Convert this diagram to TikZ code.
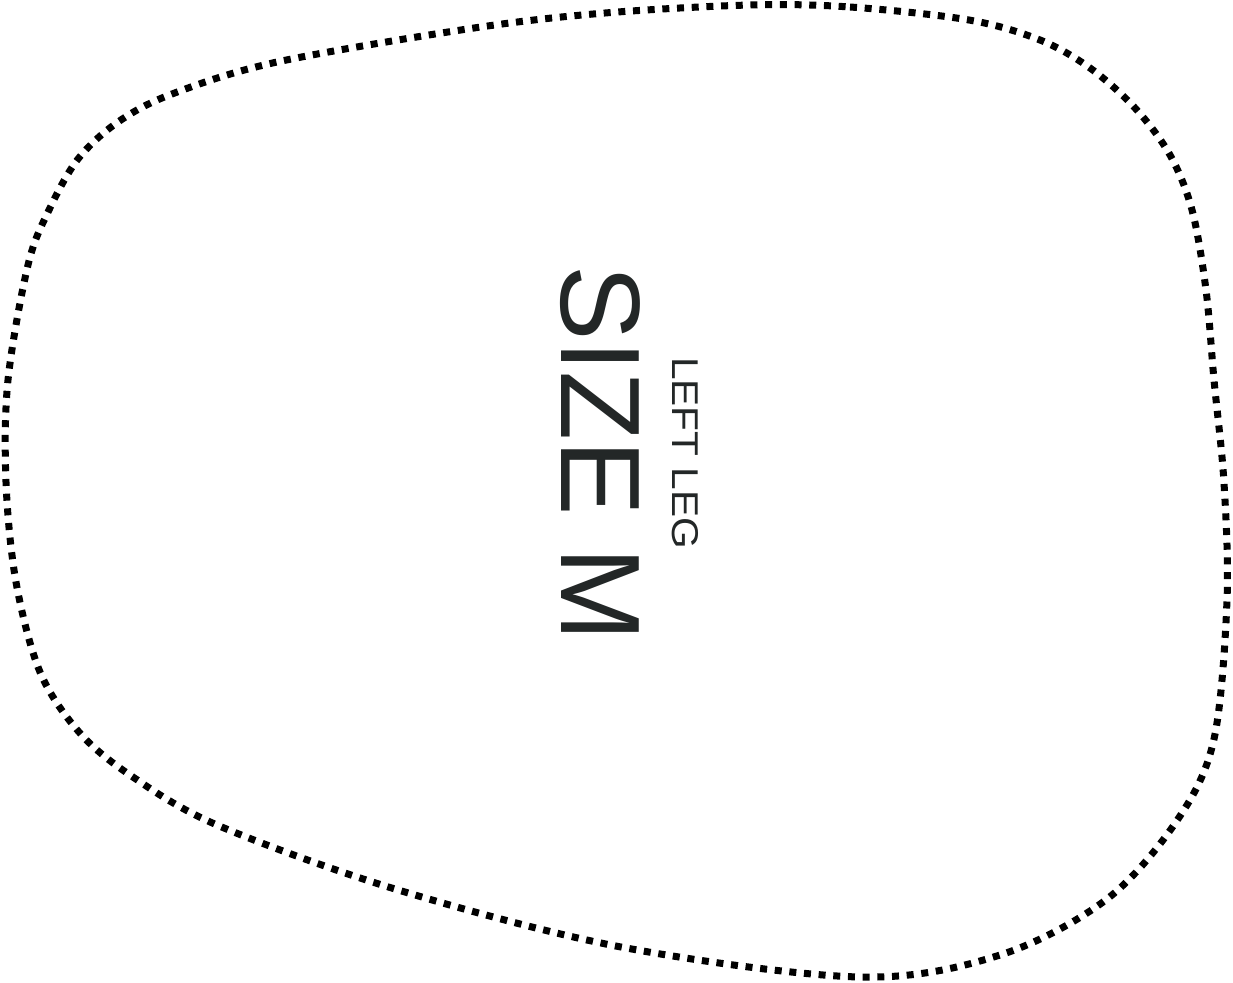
\documentclass[tikz,border=0pt]{standalone}
\usepackage{fontspec}
\setmainfont{Liberation Sans}
\definecolor{txt}{HTML}{232727}
\begin{document}
\begin{tikzpicture}[x=1pt,y=-1pt,
  dotline/.style={line width=7pt, dash pattern=on 7pt off 7.7pt, black},
  lbl/.style={rotate=-90, anchor=base west, inner sep=0pt, outer sep=0pt, text=txt}]
\useasboundingbox (0,0) rectangle (1233,982);
\draw[dotline] plot[smooth cycle, tension=0.55] coordinates {
 (750,5) (850,7) (969,20) (1040,40) (1090,68) (1135,108) (1170,155)
 (1192,210) (1206,290) (1214,380)
 (1224,483) (1227,600) (1214,739) (1178,819) (1107,899) (1000,955)
 (860,977) (621,947) (395,889) (217,825) (130,775) (79,732) (40,672)
 (16,582) (6,482) (8,380) (28,265) (49,210) (78,159) (118,122) (172,94)
 (277,62) (474,28) (605,13)};
\node[lbl] (size) at (561,265) {\fontsize{113}{120}\selectfont SIZE M};
\node[lbl] (leg) at (672,357) {\fontsize{37.3}{40}\selectfont\scalebox{1.09}[1]{LEFT LEG}};
\end{tikzpicture}
\end{document}
